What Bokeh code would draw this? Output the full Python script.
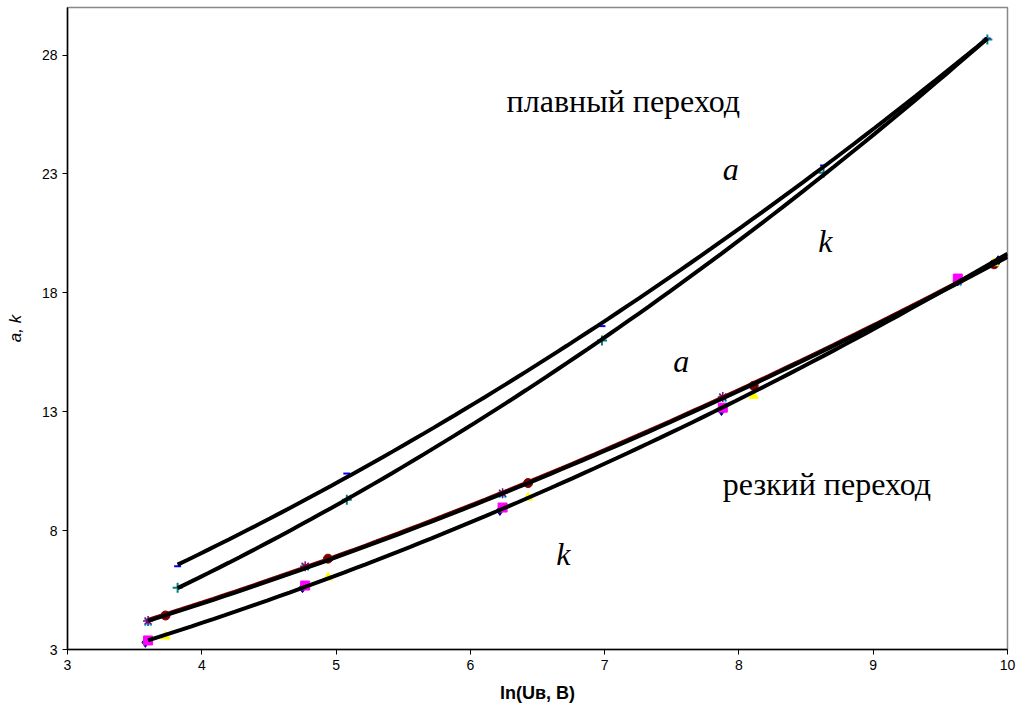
import numpy as np
from bokeh.plotting import figure
from bokeh.models import Range1d, FixedTicker
from bokeh.core.properties import value
from bokeh.embed import file_html
from bokeh.resources import INLINE

# --- data ---
x_ticks = [3, 4, 5, 6, 7, 8, 9, 10]
y_ticks = [3, 8, 13, 18, 23, 28]

# smooth transition ("плавный переход")
smooth_x = [3.82, 5.08, 6.98, 8.63, 9.85]
smooth_a = [6.5, 10.4, 16.6, 23.35, 28.7]
smooth_k = [5.6, 9.3, 16.0, 23.05, 28.65]

# sharp transition ("резкий переход")
sharp_x1 = [3.60, 4.77, 6.24, 7.88, 9.63]
sharp_x2 = [3.73, 4.94, 6.43, 8.11, 9.90]
diamond_x = [3.58, 4.75, 6.22, 7.87, 9.93]

a_cross = [4.15, 6.47, 9.53, 13.57, 18.45]
a_star = [4.20, 6.50, 9.57, 13.62, 18.50]
a_circle = [4.43, 6.82, 10.00, 14.09, 19.20]

k_diamond = [3.30, 5.60, 8.85, 13.05, 19.35]
k_square = [3.38, 5.69, 8.97, 13.17, 18.60]
k_triangle = [3.55, 6.03, 9.39, 13.67, 19.25]

labels = ["плавный переход", "a", "k", "a", "резкий переход", "k"]
label_x = [6.27, 7.88, 8.59, 7.51, 7.88, 6.64]
label_y = [26.07, 23.21, 20.18, 15.14, 9.97, 7.03]
label_italic = [False, True, True, True, False, True]

p = figure(width=1018, height=719, output_backend="svg", toolbar_location=None,
           x_range=Range1d(3, 10), y_range=Range1d(3, 30),
           min_border_left=67, min_border_right=11, min_border_top=7,
           min_border_bottom=70)
p.background_fill_color = "white"
p.border_fill_color = "white"
p.outline_line_color = "#888888"
p.outline_line_width = 1.5
p.xgrid.visible = False
p.ygrid.visible = False

for ax in (p.xaxis[0], p.yaxis[0]):
    ax.axis_line_color = "black"
    ax.axis_line_width = 1.5
    ax.major_tick_line_color = "black"
    ax.major_tick_out = 5
    ax.major_tick_in = 0
    ax.minor_tick_line_color = None
    ax.major_label_text_font = "Liberation Sans"
    ax.major_label_text_font_size = "14px"
    ax.major_label_text_color = "black"
    ax.axis_label_text_color = "black"

p.xaxis.ticker = FixedTicker(ticks=x_ticks)
p.yaxis.ticker = FixedTicker(ticks=y_ticks)
p.xaxis.axis_label = "ln(Uв, B)"
p.xaxis.axis_label_text_font = "Liberation Sans"
p.xaxis.axis_label_text_font_style = "bold"
p.xaxis.axis_label_text_font_size = "18px"
p.xaxis.axis_label_standoff = 10
p.yaxis.axis_label = "a, k"
p.yaxis.axis_label_text_font = "Liberation Sans"
p.yaxis.axis_label_text_font_style = "italic"
p.yaxis.axis_label_text_font_size = "17px"
p.yaxis.axis_label_standoff = 14

# markers (sharp)
p.scatter(sharp_x1, a_cross, marker="x", size=10, line_color="#00e0e0", line_width=2)
p.scatter(sharp_x1, a_star, marker="asterisk", size=10, line_color="#800080", line_width=1.5)
p.scatter(sharp_x2, a_circle, marker="circle", size=9, fill_color="#800000", line_color="#800000")
p.scatter(diamond_x, k_diamond, marker="diamond", size=10, fill_color="#000080", line_color="#000080")
p.scatter(sharp_x1, k_square, marker="square", size=9, fill_color="#ff00ff", line_color="#ff00ff")
p.scatter(sharp_x2, k_triangle, marker="triangle", size=9, fill_color="#ffff00", line_color="#ffff00")

# markers (smooth)
p.scatter(smooth_x, smooth_a, marker="dash", size=7, line_color="#0000ff", line_width=2)
p.scatter(smooth_x, smooth_k, marker="cross", size=10, line_color="#008080", line_width=2)

# quadratic trend lines fitted to the data (like spreadsheet trendlines)
def trend(xs, ys, x0, x1):
    c = np.polyfit(xs, ys, 2)
    xx = np.linspace(x0, x1, 80)
    return xx, np.polyval(c, xx)

la_x, la_y = trend(sharp_x1 + sharp_x2, a_cross + a_circle, min(sharp_x1), 10)
lk_x, lk_y = trend(sharp_x1 + sharp_x2, k_square + k_triangle, min(sharp_x1), 10)
ua_x, ua_y = trend(smooth_x, smooth_a, min(smooth_x), max(smooth_x))
uk_x, uk_y = trend(smooth_x, smooth_k, min(smooth_x), max(smooth_x))

p.line(la_x, la_y + 0.04, line_color="#800000", line_width=4)
p.line(la_x, la_y, line_color="black", line_width=4)
p.line(lk_x, lk_y, line_color="black", line_width=4)
p.line(ua_x, ua_y, line_color="black", line_width=4)
p.line(uk_x, uk_y, line_color="black", line_width=4)

# annotations
for t, x, y, it in zip(labels, label_x, label_y, label_italic):
    p.text(x=[x], y=[y], text=[t], text_font=value("Liberation Serif"),
           text_font_size="32px",
           text_font_style="italic" if it else "normal",
           text_color="black", text_baseline="alphabetic", text_align="left")

open("out.html", "w").write(file_html(p, INLINE))
